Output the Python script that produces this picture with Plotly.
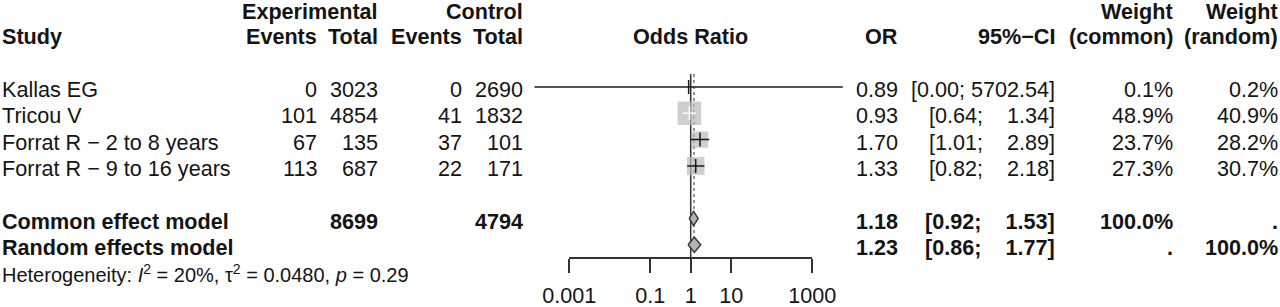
import plotly.graph_objects as go
import math

# ---------------- data ----------------
studies = ["Kallas EG", "Tricou V", "Forrat R \u2212 2 to 8 years", "Forrat R \u2212 9 to 16 years"]
e_events = [0, 101, 67, 113]
e_total = [3023, 4854, 135, 687]
c_events = [0, 41, 37, 22]
c_total = [2690, 1832, 101, 171]
or_est = [0.89, 0.93, 1.70, 1.33]
or_low = [0.000139, 0.64, 1.01, 0.82]
or_up = [5702.54, 1.34, 2.89, 2.18]
w_common = [0.1, 48.9, 23.7, 27.3]
w_random = [0.2, 40.9, 28.2, 30.7]

models = ["Common effect model", "Random effects model"]
model_est = [1.18, 1.23]
model_low = [0.92, 0.86]
model_up = [1.53, 1.77]
e_total_sum = 8699
c_total_sum = 4794

tick_vals = [0.001, 0.1, 1, 10, 1000]
tick_text = ["0.001", "0.1", "1", "10", "1000"]
hetero = "Heterogeneity: <i>I</i><sup>2</sup> = 20%, \u03c4<sup>2</sup> = 0.0480, <i>p</i> = 0.29"

# ---------------- layout constants ----------------
W, H = 1280, 307
ROW0, ROWH = 87.0, 26.3          # pixel of first study row, row spacing
X1, DEC = 690.7, 40.5            # pixel of OR=1, px per decade
FONT = "Liberation Sans, Arial, Helvetica, sans-serif"
FS = 21.6
TXT = "#141414"

def prow(px):
    return (px - ROW0) / ROWH

y_top, y_bot = prow(0), prow(H)

fig = go.Figure()

study_rows = [0, 1, 2, 3]
model_rows = [5, 6]

# reference lines
fig.add_trace(go.Scatter(x=[1, 1], y=[prow(74), prow(258)], mode="lines",
                         line=dict(color="#333333", width=1.5), hoverinfo="skip", showlegend=False))
for est in model_est:
    fig.add_trace(go.Scatter(x=[est, est], y=[prow(74), prow(250)], mode="lines",
                             line=dict(color="#888888", width=1, dash="dot"), hoverinfo="skip", showlegend=False))

# squares
wmax = max(w_common)
sizes = [23.5 * math.sqrt(w / wmax) for w in w_common]
fig.add_trace(go.Scatter(x=or_est, y=study_rows, mode="markers",
                         marker=dict(symbol="square", size=sizes, color="#bababa", line=dict(width=0)),
                         hoverinfo="skip", showlegend=False))

# CI lines and estimate ticks
for i in range(len(studies)):
    inside = sizes[i] / 2 >= DEC * max(math.log10(or_up[i] / or_est[i]), math.log10(or_est[i] / or_low[i])) + 1
    col = "#ffffff" if inside else "#1a1a1a"
    fig.add_trace(go.Scatter(x=[or_low[i], or_up[i]], y=[study_rows[i]] * 2, mode="lines",
                             line=dict(color=col, width=1.5), hoverinfo="skip", showlegend=False))
    fig.add_trace(go.Scatter(x=[or_est[i]], y=[study_rows[i]], mode="markers",
                             marker=dict(symbol="line-ns", size=10, line=dict(color=col, width=1.5)),
                             hoverinfo="skip", showlegend=False))

# diamonds
dh = [0.27, 0.29]
for k in range(2):
    r = model_rows[k]
    fig.add_trace(go.Scatter(
        x=[model_low[k], model_est[k], model_up[k], model_est[k], model_low[k]],
        y=[r, r - dh[k], r, r + dh[k], r], mode="lines", fill="toself",
        fillcolor="#b4b4b4", line=dict(color="#3a3a3a", width=1.5),
        hoverinfo="skip", showlegend=False))

# invisible trace for bottom axis
fig.add_trace(go.Scatter(x=[1], y=[prow(258)], xaxis="x2", yaxis="y", mode="markers",
                         marker=dict(opacity=0), hoverinfo="skip", showlegend=False))

# ---------------- text ----------------
def txt(xp, row, s, anchor="right", bold=False, dy=0.1, size=FS):
    fig.add_annotation(x=xp / W, xref="paper", y=row + dy, yref="y", text=("<b>%s</b>" % s) if bold else s,
                       showarrow=False, xanchor=anchor, yanchor="middle", borderpad=0, borderwidth=0,
                       font=dict(family=FONT, size=size, color=TXT))

H1, H2 = prow(11), prow(36)
txt(378, H1, "Experimental", bold=True, dy=0)
txt(523, H1, "Control", bold=True, dy=0)
txt(1173, H1, "Weight", bold=True, dy=0)
txt(1278, H1, "Weight", bold=True, dy=0)
txt(2, H2, "Study", anchor="left", bold=True, dy=0)
txt(317, H2, "Events", bold=True, dy=0)
txt(378, H2, "Total", bold=True, dy=0)
txt(462, H2, "Events", bold=True, dy=0)
txt(523, H2, "Total", bold=True, dy=0)
txt(690, H2, "Odds Ratio", anchor="center", bold=True, dy=0)
txt(898, H2, "OR", bold=True, dy=0)
txt(1055, H2, "95%\u2212CI", bold=True, dy=0)
txt(1173, H2, "(common)", bold=True, dy=0)
txt(1278, H2, "(random)", bold=True, dy=0)

up_str = ["%.2f" % u for u in or_up + model_up]
up_w = max(len(s) for s in up_str)

def ci_text(lo, up):
    u = "%.2f" % up
    return "[%.2f; %s%s]" % (lo, "\u00a0" * (up_w - len(u)), u)

for i, r in enumerate(study_rows):
    txt(2, r, studies[i], anchor="left")
    txt(317, r, str(e_events[i]))
    txt(378, r, str(e_total[i]))
    txt(462, r, str(c_events[i]))
    txt(523, r, str(c_total[i]))
    txt(898, r, "%.2f" % or_est[i])
    txt(1055, r, ci_text(or_low[i], or_up[i]))
    txt(1173, r, "%.1f%%" % w_common[i])
    txt(1278, r, "%.1f%%" % w_random[i])

for k, r in enumerate(model_rows):
    txt(2, r, models[k], anchor="left", bold=True)
    txt(898, r, "%.2f" % model_est[k], bold=True)
    txt(1055, r, ci_text(model_low[k], model_up[k]), bold=True)
txt(378, model_rows[0], str(e_total_sum), bold=True)
txt(523, model_rows[0], str(c_total_sum), bold=True)
txt(1173, model_rows[0], "%.1f%%" % sum(w_common), bold=True)
txt(1278, model_rows[0], ".", bold=True)
txt(1173, model_rows[1], ".", bold=True)
txt(1278, model_rows[1], "%.1f%%" % sum(w_random), bold=True)
txt(2, 7, hetero, anchor="left", size=20)

# ---------------- axes ----------------
fig.update_layout(
    width=W, height=H, margin=dict(l=0, r=0, t=0, b=0, pad=0, autoexpand=False),
    paper_bgcolor="white", plot_bgcolor="rgba(0,0,0,0)",
    xaxis=dict(type="log", range=[-4, 4], domain=[(X1 - 4 * DEC) / W, (X1 + 4 * DEC) / W],
               visible=False, fixedrange=True),
    xaxis2=dict(type="log", range=[-3, 3], domain=[(X1 - 3 * DEC) / W, (X1 + 3 * DEC) / W],
                anchor="free", position=(H - 258) / H, side="bottom",
                showline=True, linecolor="#333333", linewidth=1.5,
                ticks="outside", ticklen=14, tickwidth=1.5, tickcolor="#333333",
                tickvals=tick_vals, ticktext=tick_text, ticklabelstandoff=4,
                tickfont=dict(family=FONT, size=FS, color=TXT),
                showgrid=False, zeroline=False, fixedrange=True, automargin=False),
    yaxis=dict(range=[y_bot, y_top], visible=False, fixedrange=True),
    showlegend=False,
)

fig.write_html("out.html", config={"displayModeBar": False},
               post_script="document.body.style.margin='0';document.body.style.overflow='hidden';")
